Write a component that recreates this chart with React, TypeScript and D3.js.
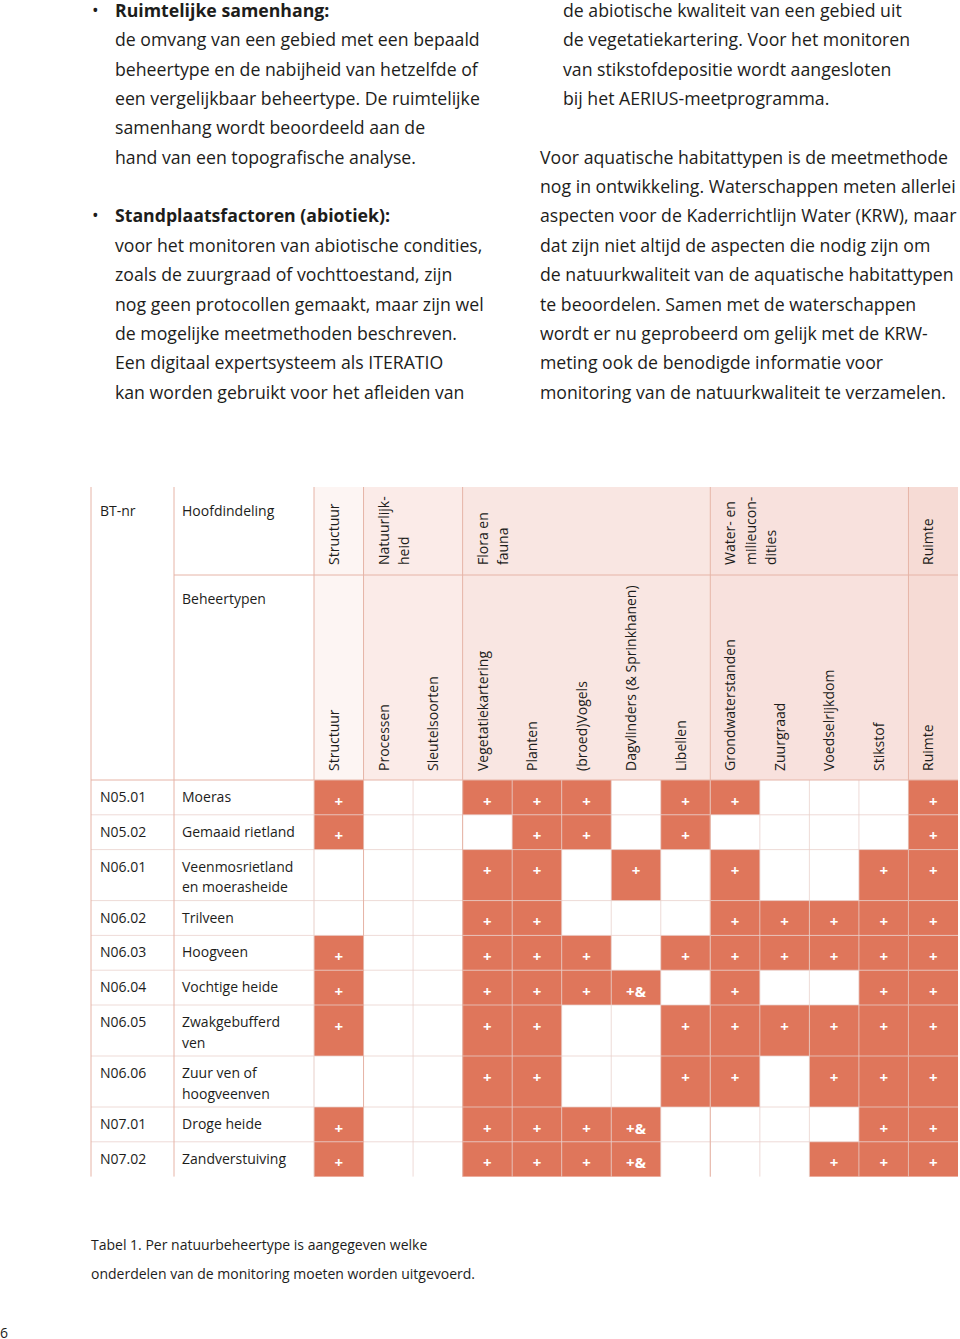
import React from "react";
import * as d3 from "d3";

// ---------- data ----------
const groupLabels: string[][] = [
  ["Structuur"],
  ["Natuurlijk-", "heid"],
  ["Flora en", "fauna"],
  ["Water- en", "milieucon-", "dities"],
  ["Ruimte"],
];
const groupSpans = [1, 2, 5, 4, 1];
const groupFills = ["#fdf5f3", "#fbebe8", "#f9e6e2", "#f8e1dd", "#f6dbd5"];

const subColumns = [
  "Structuur",
  "Processen",
  "Sleutelsoorten",
  "Vegetatiekartering",
  "Planten",
  "(broed)Vogels",
  "Dagvlinders (& Sprinkhanen)",
  "Libellen",
  "Grondwaterstanden",
  "Zuurgraad",
  "Voedselrijkdom",
  "Stikstof",
  "Ruimte",
];

const btNumbers = [
  "N05.01", "N05.02", "N06.01", "N06.02", "N06.03",
  "N06.04", "N06.05", "N06.06", "N07.01", "N07.02",
];
const beheertypen: string[][] = [
  ["Moeras"],
  ["Gemaaid rietland"],
  ["Veenmosrietland", "en moerasheide"],
  ["Trilveen"],
  ["Hoogveen"],
  ["Vochtige heide"],
  ["Zwakgebufferd", "ven"],
  ["Zuur ven of", "hoogveenven"],
  ["Droge heide"],
  ["Zandverstuiving"],
];
const marks: string[][] = [
  ["+", "", "", "+", "+", "+", "", "+", "+", "", "", "", "+"],
  ["+", "", "", "", "+", "+", "", "+", "", "", "", "", "+"],
  ["", "", "", "+", "+", "", "+", "", "+", "", "", "+", "+"],
  ["", "", "", "+", "+", "", "", "", "+", "+", "+", "+", "+"],
  ["+", "", "", "+", "+", "+", "", "+", "+", "+", "+", "+", "+"],
  ["+", "", "", "+", "+", "+", "+&", "", "+", "", "", "+", "+"],
  ["+", "", "", "+", "+", "", "", "+", "+", "+", "+", "+", "+"],
  ["", "", "", "+", "+", "", "", "+", "+", "", "+", "+", "+"],
  ["+", "", "", "+", "+", "+", "+&", "", "", "", "", "+", "+"],
  ["+", "", "", "+", "+", "+", "+&", "", "", "", "+", "+", "+"],
];

const leftLines: (string | null)[] = [
  "*Ruimtelijke samenhang:",
  "de omvang van een gebied met een bepaald",
  "beheertype en de nabijheid van hetzelfde of",
  "een vergelijkbaar beheertype. De ruimtelijke",
  "samenhang wordt beoordeeld aan de",
  "hand van een topografische analyse.",
  null,
  "*Standplaatsfactoren (abiotiek):",
  "voor het monitoren van abiotische condities,",
  "zoals de zuurgraad of vochttoestand, zijn",
  "nog geen protocollen gemaakt, maar zijn wel",
  "de mogelijke meetmethoden beschreven.",
  "Een digitaal expertsysteem als ITERATIO",
  "kan worden gebruikt voor het afleiden van",
];
const rightLines: (string | null)[] = [
  "de abiotische kwaliteit van een gebied uit",
  "de vegetatiekartering. Voor het monitoren",
  "van stikstofdepositie wordt aangesloten",
  "bij het AERIUS-meetprogramma.",
  null,
  "Voor aquatische habitattypen is de meetmethode",
  "nog in ontwikkeling. Waterschappen meten allerlei",
  "aspecten voor de Kaderrichtlijn Water (KRW), maar",
  "dat zijn niet altijd de aspecten die nodig zijn om",
  "de natuurkwaliteit van de aquatische habitattypen",
  "te beoordelen. Samen met de waterschappen",
  "wordt er nu geprobeerd om gelijk met de KRW-",
  "meting ook de benodigde informatie voor",
  "monitoring van de natuurkwaliteit te verzamelen.",
];
const captionLines = [
  "Tabel 1. Per natuurbeheertype is aangegeven welke",
  "onderdelen van de monitoring moeten worden uitgevoerd.",
];

// ---------- layout ----------
const W = 960;
const H = 1339;
const FONT = "'Open Sans', 'Noto Sans', sans-serif";
const INK = "#1d1d1b";
const FILL = "#df765b";
const PINK_LINE = "#e6b4a7";

const tableLeft = 91;
const col2Left = 174;
const dataLeft = 314;
const dataRight = 958;
const headTop = 487;
const groupBottom = 575;
const headBottom = 780;

const lineH = 29.35;
const textTop = 17;
const bodySize = 17.7;

export default function App() {
  const x = d3.scaleBand<string>().domain(subColumns).range([dataLeft, dataRight]);
  const bw = x.bandwidth();

  const rowH = beheertypen.map((l) => (l.length > 1 ? 51 : 34.8));
  const rowTops = [headBottom, ...Array.from(d3.cumsum(rowH)).map((v) => headBottom + v)];
  const tableBottom = rowTops[rowTops.length - 1];

  const groupStarts = groupSpans.map((_, i) => d3.sum(groupSpans.slice(0, i)));
  const groupBounds = groupStarts.map((s, i) => ({
    x0: x(subColumns[s]) as number,
    x1: (x(subColumns[s + groupSpans[i] - 1]) as number) + bw,
  }));

  const bodyLine = (line: string | null, i: number, x0: number, key: string) => {
    if (line == null) return null;
    const y = textTop + i * lineH;
    if (line.startsWith("*")) {
      return (
        <g key={key}>
          <text x={x0 - 23} y={y} fontSize={bodySize} fill={INK}>•</text>
          <text x={x0} y={y} fontSize={bodySize} fontWeight={700} fill={INK}>
            {line.slice(1)}
          </text>
        </g>
      );
    }
    return (
      <text key={key} x={x0} y={y} fontSize={bodySize} fill={INK}>
        {line}
      </text>
    );
  };

  return (
    <svg
      width={W}
      height={H}
      viewBox={`0 0 ${W} ${H}`}
      style={{ position: "absolute", left: 0, top: 0, display: "block", background: "#fff" }}
      fontFamily={FONT}
    >
      {/* body text */}
      {leftLines.map((l, i) => bodyLine(l, i, 115, "l" + i))}
      {rightLines.map((l, i) => bodyLine(l, i, i < 4 ? 563 : 540, "r" + i))}

      {/* header backgrounds */}
      {groupBounds.map((g, i) => (
        <rect
          key={"hb" + i}
          x={g.x0}
          y={headTop}
          width={g.x1 - g.x0}
          height={headBottom - headTop}
          fill={groupFills[i]}
        />
      ))}

      {/* filled cells */}
      {marks.map((row, r) =>
        row.map((m, c) =>
          m ? (
            <rect
              key={`c${r}-${c}`}
              x={x(subColumns[c]) as number}
              y={rowTops[r]}
              width={bw}
              height={rowH[r]}
              fill={FILL}
            />
          ) : null
        )
      )}

      {/* data grid lines */}
      <g stroke="#e8cfc9" strokeOpacity={0.75} strokeWidth={1}>
        {rowTops.slice(1, -1).map((y, i) => (
          <line key={"h" + i} x1={tableLeft} x2={dataRight} y1={y} y2={y} />
        ))}
        {subColumns.slice(1).map((s, i) => (
          <line
            key={"v" + i}
            x1={x(s) as number}
            x2={x(s) as number}
            y1={headBottom}
            y2={tableBottom}
          />
        ))}
      </g>

      {/* structural lines */}
      <g stroke={PINK_LINE} strokeWidth={1}>
        <line x1={tableLeft} x2={tableLeft} y1={headTop} y2={tableBottom} />
        <line x1={col2Left} x2={col2Left} y1={headTop} y2={tableBottom} />
        {groupBounds.map((g, i) => (
          <line key={"gl" + i} x1={g.x0} x2={g.x0} y1={headTop} y2={i === 0 ? headBottom : tableBottom} />
        ))}
        <line x1={col2Left} x2={dataRight} y1={groupBottom} y2={groupBottom} />
        <line x1={tableLeft} x2={dataRight} y1={headBottom} y2={headBottom} />
      </g>
      <line x1={dataLeft} x2={dataLeft} y1={headBottom} y2={tableBottom} stroke="#e8cfc9" />

      {/* header text */}
      <g fontSize={14} fill={INK}>
        <text x={100} y={516}>BT-nr</text>
        <text x={182} y={516}>Hoofdindeling</text>
        <text x={182} y={604}>Beheertypen</text>
        {groupBounds.map((g, i) => (
          <text key={"gt" + i} transform={`translate(${g.x0 + 25},${565}) rotate(-90)`}>
            {groupLabels[i].map((l, j) => (
              <tspan key={j} x={0} dy={j === 0 ? 0 : 20.3}>
                {l}
              </tspan>
            ))}
          </text>
        ))}
        {subColumns.map((s) => (
          <text key={"st" + s} transform={`translate(${(x(s) as number) + 25},${771}) rotate(-90)`}>
            {s}
          </text>
        ))}
      </g>

      {/* row labels */}
      <g fontSize={14} fill={INK}>
        {btNumbers.map((b, r) => (
          <text key={"bt" + r} x={100} y={rowTops[r] + 22}>
            {b}
          </text>
        ))}
        {beheertypen.map((lines, r) => (
          <text key={"bh" + r} x={182} y={rowTops[r] + 22}>
            {lines.map((l, j) => (
              <tspan key={j} x={182} dy={j === 0 ? 0 : 20.5}>
                {l}
              </tspan>
            ))}
          </text>
        ))}
      </g>

      {/* plus marks */}
      <g fill="#fff" fontWeight={700} fontSize={15} textAnchor="middle">
        {marks.map((row, r) =>
          row.map((m, c) =>
            m ? (
              <text
                key={`m${r}-${c}`}
                x={(x(subColumns[c]) as number) + bw / 2}
                y={rowTops[r] + 26.5}
              >
                {m}
              </text>
            ) : null
          )
        )}
      </g>

      {/* caption */}
      <g fontSize={14} fill={INK}>
        {captionLines.map((c, i) => (
          <text key={"cap" + i} x={91} y={1250 + i * 29.3}>
            {c}
          </text>
        ))}
        <text x={0} y={1338}>6</text>
      </g>
    </svg>
  );
}
